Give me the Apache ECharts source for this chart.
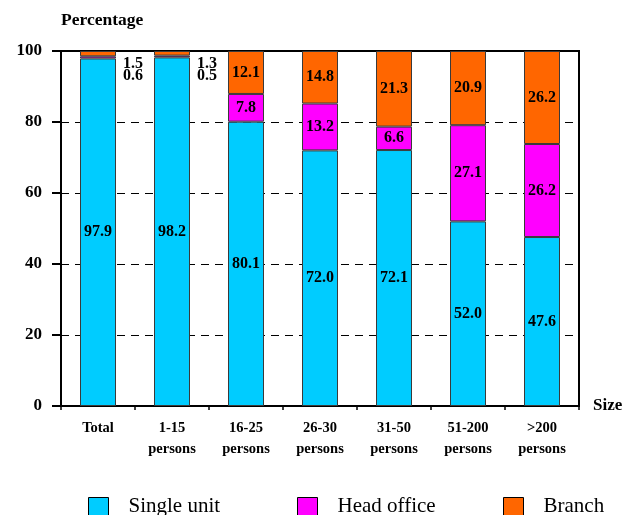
<!DOCTYPE html>
<html>
<head>
<meta charset="utf-8">
<script src="https://cdn.jsdelivr.net/npm/echarts@6/dist/echarts.min.js"></script>
<style>
html,body{margin:0;padding:0;background:#fff;}
#chart{width:638px;height:515px;}
</style>
</head>
<body>
<div id="chart"></div>
<script>
var categories = ['Total', '1-15\npersons', '16-25\npersons', '26-30\npersons', '31-50\npersons', '51-200\npersons', '>200\npersons'];
var singleUnit = [97.9, 98.2, 80.1, 72.0, 72.1, 52.0, 47.6];
var headOffice = [0.6, 0.5, 7.8, 13.2, 6.6, 27.1, 26.2];
var branch = [1.5, 1.3, 12.1, 14.8, 21.3, 20.9, 26.2];
var yTicks = [0, 20, 40, 60, 80, 100];

var FONT = "'Liberation Serif', 'Times New Roman', serif";
var chart = echarts.init(document.getElementById('chart'));

function makeData(values, smallOffsets) {
  return values.map(function (v, i) {
    if (v < 3 && smallOffsets) {
      return { value: v, label: { position: 'right', distance: 7, offset: [0, smallOffsets[i] || 10] } };
    }
    return v;
  });
}

var labelStyle = {
  show: true,
  position: 'inside',
  color: '#000',
  fontFamily: FONT,
  fontWeight: 'bold',
  fontSize: 16,
  formatter: function (p) { return p.value.toFixed(1); }
};

function series(name, values, color, offsets) {
  return {
    name: name,
    type: 'bar',
    stack: 'total',
    barWidth: 36,
    data: makeData(values, offsets),
    itemStyle: { color: color, borderColor: '#3a3a3a', borderWidth: 1 },
    label: labelStyle,
    emphasis: { disabled: true }
  };
}

function legendItem(name, left) {
  return {
    data: [name],
    left: left,
    top: 496,
    itemWidth: 20,
    itemHeight: 18,
    icon: 'rect',
    padding: 0,
    selectedMode: false,
    itemStyle: { borderColor: '#000', borderWidth: 1 },
    textStyle: { fontFamily: FONT, fontSize: 21, color: '#000', padding: [3, 0, 0, 15] }
  };
}

var option = {
  animation: false,
  backgroundColor: '#fff',
  title: {
    text: 'Percentage',
    left: 61,
    top: 11,
    padding: 0,
    textStyle: { fontFamily: FONT, fontWeight: 'bold', fontSize: 17.5, color: '#000' }
  },
  legend: [
    legendItem('Single unit', 88),
    legendItem('Head office', 297),
    legendItem('Branch', 503)
  ],
  grid: {
    left: 61, right: 59, top: 51, bottom: 109,
    show: true, borderColor: '#000', borderWidth: 2, backgroundColor: 'transparent'
  },
  xAxis: {
    type: 'category',
    data: categories,
    name: 'Size',
    nameLocation: 'end',
    nameGap: 14,
    nameTextStyle: { fontFamily: FONT, fontWeight: 'bold', fontSize: 17, color: '#000', verticalAlign: 'middle', padding: [0, 0, 18, 0] },
    axisLine: { lineStyle: { color: '#000', width: 2 } },
    axisTick: { show: true, length: 4, lineStyle: { color: '#000', width: 1.5 } },
    axisLabel: { fontFamily: FONT, fontWeight: 'bold', fontSize: 14.5, color: '#000', lineHeight: 21, margin: 12 },
    splitLine: { show: false }
  },
  yAxis: {
    type: 'value',
    min: yTicks[0],
    max: yTicks[yTicks.length - 1],
    interval: 20,
    axisLine: { show: true, lineStyle: { color: '#000', width: 2 } },
    axisTick: { show: true, length: 9, lineStyle: { color: '#000', width: 2 } },
    axisLabel: { fontFamily: FONT, fontWeight: 'bold', fontSize: 17, color: '#000', margin: 19 },
    splitLine: { show: true, lineStyle: { color: '#000', width: 1, type: [8, 6] } }
  },
  series: [
    series('Single unit', singleUnit, '#00CCFF', null),
    series('Head office', headOffice, '#FF00FF', [18.6, 19.5]),
    series('Branch', branch, '#FF6600', [10, 10.7])
  ]
};
chart.setOption(option);
</script>
</body>
</html>
